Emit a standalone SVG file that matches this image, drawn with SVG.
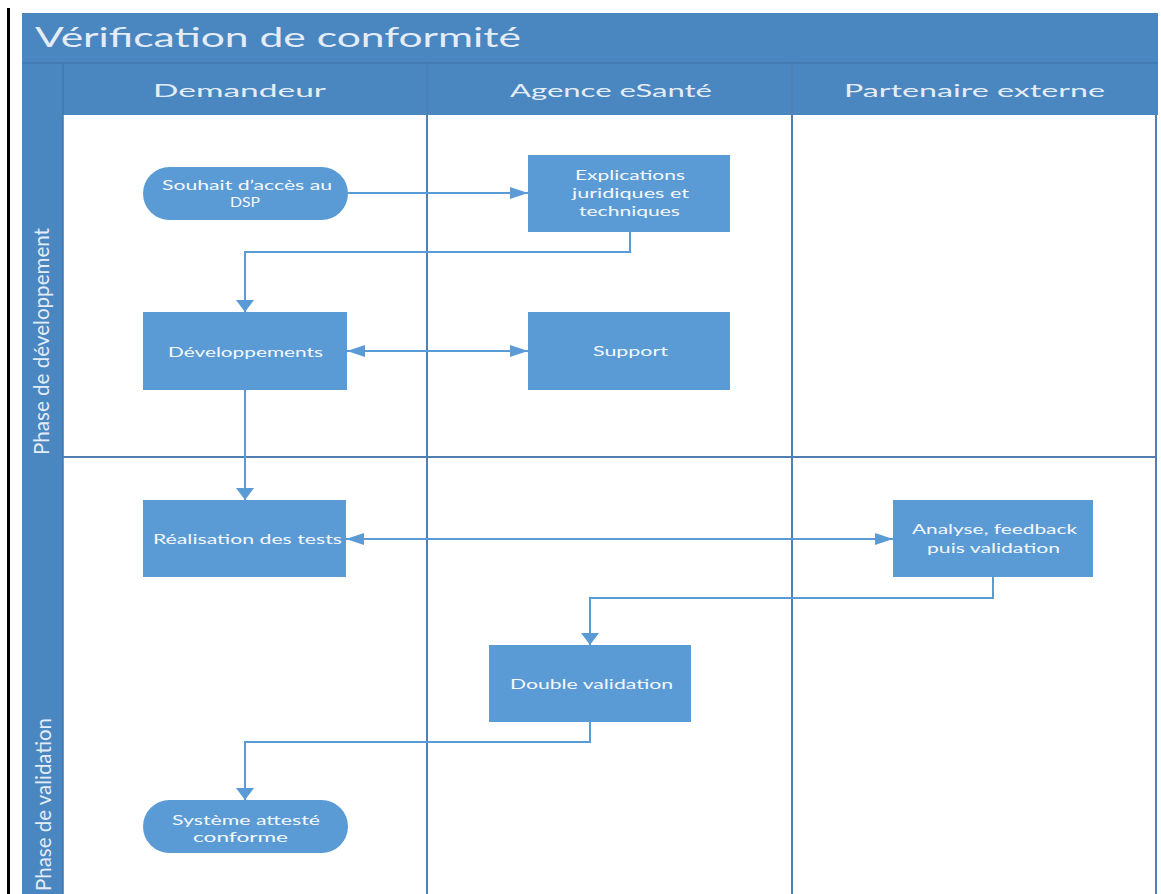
<svg xmlns="http://www.w3.org/2000/svg" width="1161" height="894" viewBox="0 0 1161 894">
  <style>
    .band { fill: #4a86c0; }
    .lane { fill: none; stroke: #4f7fb3; stroke-width: 2; }
    .hdr { font-family: Lato, "Liberation Sans", sans-serif; fill: #e4edf7; }
    .node { fill: #5b9bd5; }
    .lbl { font-family: Lato, "Liberation Sans", sans-serif; font-size: 14px; fill: #f4f8fc; text-anchor: start; }
    .conn { fill: none; stroke: #5b9bd5; stroke-width: 2; }
  </style>
  <defs>
    <!-- horizontal arrowhead: long and narrow -->
    <marker id="ah" viewBox="0 0 18 12" markerWidth="18" markerHeight="12" refX="18" refY="6" orient="auto-start-reverse" markerUnits="userSpaceOnUse">
      <path d="M0,0 L18,6 L0,12 Z" fill="#5b9bd5"/>
    </marker>
    <!-- vertical arrowhead: short and wide -->
    <marker id="av" viewBox="0 0 12 18" markerWidth="12" markerHeight="18" refX="12" refY="9" orient="auto" markerUnits="userSpaceOnUse">
      <path d="M0,0 L12,9 L0,18 Z" fill="#5b9bd5"/>
    </marker>
  </defs>

  <rect width="1161" height="894" fill="#ffffff"/>
  <rect x="7" y="8" width="3" height="886" fill="#000000"/>

  <!-- pool frame -->
  <g id="pool">
    <rect class="band" x="22" y="13" width="1136" height="50"/>
    <rect class="band" x="22" y="63" width="1136" height="52"/>
    <rect class="band" x="22" y="115" width="41" height="779"/>
    <line x1="22" y1="63" x2="1158" y2="63" stroke="#3f77ad" stroke-width="1.5"/>
    <line x1="63" y1="63" x2="63" y2="894" stroke="#3f77ad" stroke-width="1.5"/>
    <line class="lane" x1="427" y1="63" x2="427" y2="894"/>
    <line class="lane" x1="792" y1="63" x2="792" y2="894"/>
    <line class="lane" x1="1156" y1="115" x2="1156" y2="894"/>
    <line class="lane" x1="63" y1="457" x2="1156" y2="457"/>
    <text class="hdr" x="35" y="47" font-size="26" textLength="486" lengthAdjust="spacingAndGlyphs">Vérification de conformité</text>
    <text class="hdr" x="153" y="97" font-size="18" textLength="173" lengthAdjust="spacingAndGlyphs">Demandeur</text>
    <text class="hdr" x="510" y="97" font-size="18" textLength="202" lengthAdjust="spacingAndGlyphs">Agence eSanté</text>
    <text class="hdr" x="844" y="97" font-size="18" textLength="261" lengthAdjust="spacingAndGlyphs">Partenaire externe</text>
    <text class="hdr" transform="translate(49,455) rotate(-90)" font-size="21" textLength="227" lengthAdjust="spacingAndGlyphs">Phase de développement</text>
    <text class="hdr" transform="translate(51,891) rotate(-90)" font-size="21" textLength="173" lengthAdjust="spacingAndGlyphs">Phase de validation</text>
  </g>

  <!-- connectors -->
  <g id="connectors">
    <path class="conn" d="M348,193 H528" marker-end="url(#ah)"/>
    <path class="conn" d="M630,232 V252 H245 V312" marker-end="url(#av)"/>
    <path class="conn" d="M347,351 H528" marker-start="url(#ah)" marker-end="url(#ah)"/>
    <path class="conn" d="M245,390 V500" marker-end="url(#av)"/>
    <path class="conn" d="M346,539 H893" marker-start="url(#ah)" marker-end="url(#ah)"/>
    <path class="conn" d="M993,577 V598 H590 V645" marker-end="url(#av)"/>
    <path class="conn" d="M590,722 V742 H245 V800" marker-end="url(#av)"/>
  </g>

  <g id="souhait">
    <rect class="node" x="143" y="167" width="205" height="53" rx="26.5"/>
    <text class="lbl" x="162" y="190" textLength="170" lengthAdjust="spacingAndGlyphs">Souhait d’accès au</text>
    <text class="lbl" x="230" y="207" textLength="30" lengthAdjust="spacingAndGlyphs">DSP</text>
  </g>

  <g id="explications">
    <rect class="node" x="528" y="155" width="202" height="77"/>
    <text class="lbl" x="575" y="180" textLength="110" lengthAdjust="spacingAndGlyphs">Explications</text>
    <text class="lbl" x="572" y="198" textLength="117" lengthAdjust="spacingAndGlyphs">juridiques et</text>
    <text class="lbl" x="579" y="216" textLength="101" lengthAdjust="spacingAndGlyphs">techniques</text>
  </g>

  <g id="developpements">
    <rect class="node" x="143" y="312" width="204" height="78"/>
    <text class="lbl" x="168" y="357" textLength="155" lengthAdjust="spacingAndGlyphs">Développements</text>
  </g>

  <g id="support">
    <rect class="node" x="528" y="312" width="202" height="78"/>
    <text class="lbl" x="593" y="356" textLength="75" lengthAdjust="spacingAndGlyphs">Support</text>
  </g>

  <g id="realisation">
    <rect class="node" x="143" y="500" width="203" height="77"/>
    <text class="lbl" x="153" y="544" textLength="189" lengthAdjust="spacingAndGlyphs">Réalisation des tests</text>
  </g>

  <g id="analyse">
    <rect class="node" x="893" y="500" width="200" height="77"/>
    <text class="lbl" x="912" y="534" textLength="165" lengthAdjust="spacingAndGlyphs">Analyse, feedback</text>
    <text class="lbl" x="927" y="553" textLength="133" lengthAdjust="spacingAndGlyphs">puis validation</text>
  </g>

  <g id="double-validation">
    <rect class="node" x="489" y="645" width="202" height="77"/>
    <text class="lbl" x="510" y="689" textLength="163" lengthAdjust="spacingAndGlyphs">Double validation</text>
  </g>

  <g id="systeme">
    <rect class="node" x="143" y="800" width="205" height="53" rx="26.5"/>
    <text class="lbl" x="172" y="825" textLength="148" lengthAdjust="spacingAndGlyphs">Système attesté</text>
    <text class="lbl" x="193" y="842" textLength="95" lengthAdjust="spacingAndGlyphs">conforme</text>
  </g>
</svg>
